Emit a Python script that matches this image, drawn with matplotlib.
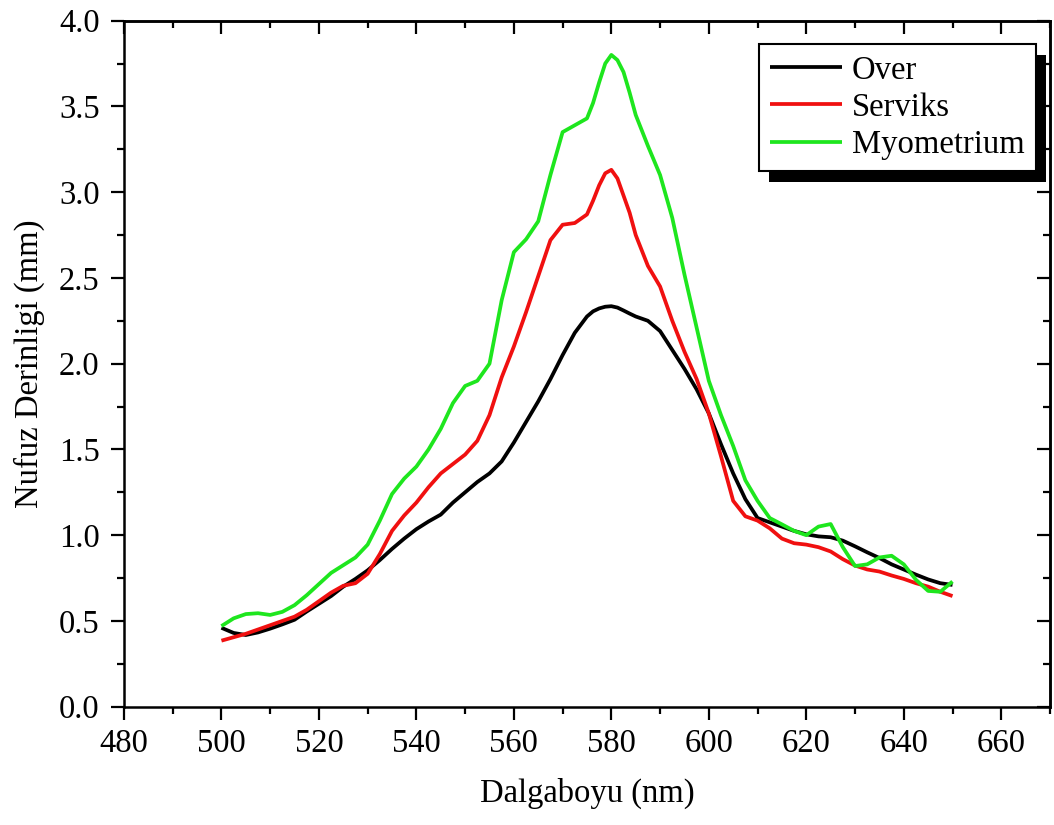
import matplotlib
matplotlib.use("Agg")
import matplotlib.pyplot as plt
from matplotlib.patches import Rectangle
from matplotlib.ticker import MultipleLocator, FormatStrFormatter

# Wavelength grid (nm): 2.5 nm steps, 1.25 nm around the peak
wavelength = ([500 + 2.5 * i for i in range(31)]
              + [576.25, 577.5, 578.75, 580, 581.25, 582.5, 583.75]
              + [585 + 2.5 * i for i in range(27)])

# Penetration depth (mm) for each tissue
over = [0.46, 0.43, 0.418, 0.433, 0.455, 0.48, 0.507, 0.555, 0.60, 0.645,
        0.70, 0.745, 0.795, 0.855, 0.92, 0.98, 1.035, 1.08, 1.12, 1.19,
        1.25, 1.31, 1.36, 1.43, 1.54, 1.66, 1.78, 1.91, 2.05, 2.18,
        2.275,
        2.305, 2.322, 2.332, 2.335, 2.327, 2.31, 2.292,
        2.275, 2.25, 2.19, 2.08, 1.97, 1.85,
        1.71, 1.53, 1.36, 1.21, 1.10, 1.075, 1.05, 1.025, 1.005, 0.993,
        0.988, 0.968, 0.935, 0.90, 0.867, 0.83, 0.80, 0.77, 0.742, 0.72,
        0.71]

serviks = [0.385, 0.405, 0.425, 0.45, 0.475, 0.50, 0.525, 0.565, 0.615, 0.665,
           0.705, 0.72, 0.775, 0.89, 1.025, 1.115, 1.19, 1.28, 1.36, 1.415,
           1.47, 1.55, 1.70, 1.92, 2.10, 2.30, 2.51, 2.72, 2.81, 2.82,
           2.87,
           2.95, 3.04, 3.11, 3.13, 3.08, 2.98, 2.88,
           2.75, 2.57, 2.45, 2.25, 2.07, 1.91,
           1.71, 1.46, 1.20, 1.11, 1.085, 1.04, 0.98, 0.953, 0.945, 0.93,
           0.905, 0.86, 0.823, 0.80, 0.788, 0.765, 0.745, 0.72, 0.70, 0.67,
           0.645]

myometrium = [0.47, 0.515, 0.54, 0.545, 0.535, 0.553, 0.592, 0.65, 0.715, 0.78,
              0.825, 0.87, 0.945, 1.085, 1.24, 1.33, 1.40, 1.50, 1.62, 1.77,
              1.87, 1.90, 2.00, 2.37, 2.65, 2.725, 2.83, 3.10, 3.35, 3.39,
              3.43,
              3.52, 3.64, 3.75, 3.80, 3.77, 3.70, 3.58,
              3.45, 3.27, 3.10, 2.85, 2.52, 2.21,
              1.90, 1.70, 1.52, 1.32, 1.20, 1.10, 1.063, 1.025, 1.00, 1.05,
              1.065, 0.93, 0.82, 0.83, 0.87, 0.88, 0.83, 0.74, 0.675, 0.67,
              0.73]

labels = ["Over", "Serviks", "Myometrium"]
colors = ["#000000", "#f01010", "#1ee61e"]

plt.rcParams["font.family"] = ["Liberation Serif", "DejaVu Serif"]
plt.rcParams["font.size"] = 23.5

fig = plt.figure(figsize=(10.54, 8.25), dpi=100)
ax = fig.add_axes([0.1176, 0.1434, 0.8786, 0.8316])

for series, lab, col in zip([over, serviks, myometrium], labels, colors):
    ax.plot(wavelength, series, color=col, lw=2.7, label=lab,
            solid_joinstyle="round", solid_capstyle="butt")

ax.set_xlim(480, 670)
ax.set_ylim(0, 4.0)
ax.xaxis.set_major_locator(MultipleLocator(20))
ax.xaxis.set_minor_locator(MultipleLocator(10))
ax.yaxis.set_major_locator(MultipleLocator(0.5))
ax.yaxis.set_minor_locator(MultipleLocator(0.25))
ax.yaxis.set_major_formatter(FormatStrFormatter("%.1f"))

for s in ax.spines.values():
    s.set_linewidth(1.8)

ax.tick_params(which="both", direction="out", width=1.6, bottom=True, left=True,
               top=False, right=False)
ax.tick_params(which="major", length=9.5)
ax.tick_params(which="minor", length=5)
ax.tick_params(axis="x", which="major", pad=6)
ax.tick_params(axis="y", which="major", pad=8)

# Inward ticks on the top and right edges, without labels
ax_top = ax.secondary_xaxis("top")
ax_top.xaxis.set_major_locator(MultipleLocator(20))
ax_top.xaxis.set_minor_locator(MultipleLocator(10))
ax_top.tick_params(which="both", direction="in", width=1.6, labeltop=False)
ax_top.tick_params(which="major", length=9.5)
ax_top.tick_params(which="minor", length=5)
ax_top.spines["top"].set_linewidth(1.8)

ax_right = ax.secondary_yaxis("right")
ax_right.yaxis.set_major_locator(MultipleLocator(0.5))
ax_right.yaxis.set_minor_locator(MultipleLocator(0.25))
ax_right.tick_params(which="both", direction="in", width=1.6, labelright=False)
ax_right.tick_params(which="major", length=9.5)
ax_right.tick_params(which="minor", length=5)
ax_right.spines["right"].set_linewidth(1.8)

ax.set_xlabel("Dalgaboyu (nm)", labelpad=14)
ax.set_ylabel("Nufuz Derinligi (mm)", labelpad=10)

leg = ax.legend(loc="upper right", bbox_to_anchor=(0.985, 0.966),
                borderaxespad=0, fancybox=False, framealpha=1,
                edgecolor="black", handlelength=2.2, handletextpad=0.3,
                labelspacing=0.2, borderpad=0.35)
leg.get_frame().set_linewidth(1.5)
for line in leg.get_lines():
    line.set_linewidth(2.7)

# Solid offset shadow behind the legend box
fig.canvas.draw()
bb = leg.get_window_extent()
inv = ax.transAxes.inverted()
(x0, y0) = inv.transform((bb.x0 + 10, bb.y0 - 11))
(x1, y1) = inv.transform((bb.x1 + 10, bb.y1 - 11))
shadow = Rectangle((x0, y0), x1 - x0, y1 - y0, transform=ax.transAxes,
                   facecolor="black", edgecolor="none", zorder=4.9,
                   clip_on=False)
ax.add_patch(shadow)

fig.savefig("out.png", dpi=100)
